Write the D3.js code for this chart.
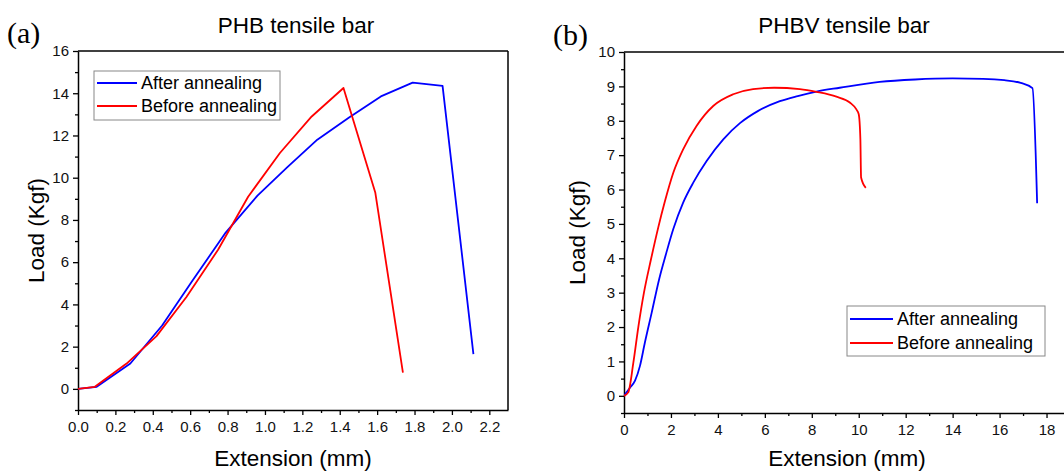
<!DOCTYPE html>
<html>
<head>
<meta charset="utf-8">
<script src="https://cdn.jsdelivr.net/npm/d3@7"></script>
<style>
  body { margin: 0; background: #fff; }
  svg { display: block; font-family: Arial, "Liberation Sans", sans-serif; }
</style>
</head>
<body>
<svg id="chart" width="1064" height="473"></svg>
<script>
// ---- Data ----
const seriesNames = ["After annealing", "Before annealing"];
const seriesColors = ["#0000ff", "#ff0000"];

// Panel (a): PHB tensile bar
const phbAfterX = [0, 0.1, 0.28, 0.45, 0.61, 0.79, 0.96, 1.12, 1.28, 1.45, 1.62, 1.79, 1.95, 2.115];
const phbAfterY = [0, 0.1, 1.2, 3.0, 5.1, 7.4, 9.15, 10.5, 11.8, 12.85, 13.85, 14.5, 14.35, 1.65];
const phbBeforeX = [0, 0.09, 0.26, 0.42, 0.58, 0.75, 0.91, 1.08, 1.25, 1.42, 1.59, 1.738];
const phbBeforeY = [0, 0.1, 1.2, 2.5, 4.35, 6.6, 9.1, 11.17, 12.9, 14.25, 9.3, 0.77];

// Panel (b): PHBV tensile bar
const phbvAfterX = [0, 0.26, 0.47, 0.68, 0.89, 1.18, 1.5, 1.8, 2.1, 2.52, 2.95, 3.52, 4.23, 4.94, 5.7, 6.64, 7.4, 8.2, 9.19, 10.89, 12.4, 14.0, 15.3, 16.2, 16.9, 17.4, 17.6];
const phbvAfterY = [0, 0.24, 0.44, 0.87, 1.55, 2.42, 3.4, 4.15, 4.85, 5.62, 6.2, 6.83, 7.46, 7.93, 8.28, 8.57, 8.72, 8.85, 8.96, 9.13, 9.2, 9.23, 9.22, 9.18, 9.1, 8.95, 5.6];
const phbvBeforeX = [0, 0.18, 0.4, 0.61, 0.85, 1.15, 1.46, 1.74, 2.1, 2.52, 3.09, 3.8, 4.65, 5.5, 6.4, 7.49, 8.2, 9.05, 9.62, 9.9, 10.0, 10.07, 10.1, 10.3];
const phbvBeforeY = [0, 0.1, 0.97, 2.0, 3.0, 3.97, 4.9, 5.65, 6.49, 7.17, 7.85, 8.43, 8.77, 8.92, 8.96, 8.92, 8.84, 8.7, 8.53, 8.33, 8.19, 7.46, 6.35, 6.05];

const phbXTicks = [0, 0.2, 0.4, 0.6, 0.8, 1.0, 1.2, 1.4, 1.6, 1.8, 2.0, 2.2];
const phbYTicks = [0, 2, 4, 6, 8, 10, 12, 14, 16];
const phbvXTicks = [0, 2, 4, 6, 8, 10, 12, 14, 16, 18];
const phbvYTicks = [0, 1, 2, 3, 4, 5, 6, 7, 8, 9, 10];

const svg = d3.select("#chart");

function zip(xs, ys) { return xs.map((x, i) => [x, ys[i]]); }

function panel(cfg) {
  const g = svg.append("g");
  const x = d3.scaleLinear().domain(cfg.xDomain).range([cfg.left, cfg.right]);
  const y = d3.scaleLinear().domain(cfg.yDomain).range([cfg.bottom, cfg.top]);

  const clipId = "clip-" + cfg.id;
  svg.append("clipPath").attr("id", clipId).append("rect")
    .attr("x", cfg.left).attr("y", cfg.top)
    .attr("width", cfg.right - cfg.left).attr("height", cfg.bottom - cfg.top);

  // minor ticks
  const xMinor = g.append("g").attr("transform", `translate(0,${cfg.bottom})`)
    .call(d3.axisBottom(x).tickValues(cfg.xMinor).tickSize(3).tickFormat(""));
  xMinor.select(".domain").remove();
  const yMinor = g.append("g").attr("transform", `translate(${cfg.left},0)`)
    .call(d3.axisLeft(y).tickValues(cfg.yMinor).tickSize(3).tickFormat(""));
  yMinor.select(".domain").remove();

  // major axes
  const xAx = g.append("g").attr("transform", `translate(0,${cfg.bottom})`)
    .call(d3.axisBottom(x).tickValues(cfg.xTicks).tickSize(5).tickPadding(6).tickSizeOuter(0).tickFormat(cfg.xFmt));
  const yAx = g.append("g").attr("transform", `translate(${cfg.left},0)`)
    .call(d3.axisLeft(y).tickValues(cfg.yTicks).tickSize(5).tickPadding(4).tickSizeOuter(0).tickFormat(d3.format("d")));
  [xAx, yAx, xMinor, yMinor].forEach(a => {
    a.attr("font-size", 15).attr("font-family", "Arial, 'Liberation Sans', sans-serif");
    a.selectAll("line").attr("stroke", "#000").attr("stroke-width", 1.3);
    a.selectAll("text").attr("fill", "#111");
    a.select(".domain").attr("stroke-width", 1.5);
  });

  // frame (top and right)
  g.append("line").attr("x1", cfg.left).attr("x2", cfg.right).attr("y1", cfg.top).attr("y2", cfg.top)
    .attr("stroke", "#000").attr("stroke-width", 1.5);
  g.append("line").attr("x1", cfg.right).attr("x2", cfg.right).attr("y1", cfg.top).attr("y2", cfg.bottom)
    .attr("stroke", "#000").attr("stroke-width", 1.5);

  // lines
  const line = d3.line().x(d => x(d[0])).y(d => y(d[1])).curve(cfg.curve);
  cfg.series.forEach((s, i) => {
    g.append("path").datum(s).attr("d", line).attr("fill", "none")
      .attr("stroke", seriesColors[i]).attr("stroke-width", 1.8)
      .attr("stroke-linejoin", "round").attr("clip-path", `url(#${clipId})`);
  });

  // titles
  const cx = (cfg.left + cfg.right) / 2;
  g.append("text").attr("x", cfg.titleX).attr("y", 33).attr("text-anchor", "middle")
    .attr("font-size", 22.5).text(cfg.title);
  g.append("text").attr("x", cx).attr("y", 466).attr("text-anchor", "middle")
    .attr("font-size", 22.5).text("Extension (mm)");
  g.append("text").attr("transform", `translate(${cfg.yTitleX},${(cfg.top + cfg.bottom) / 2}) rotate(-90)`)
    .attr("text-anchor", "middle").attr("font-size", 22.5).text("Load (Kgf)");
  g.append("text").attr("x", cfg.tagX).attr("y", cfg.tagY)
    .attr("font-family", "'Liberation Serif', 'Times New Roman', serif").attr("font-size", 30)
    .text(cfg.tag);

  // legend
  const L = cfg.legend;
  g.append("rect").attr("x", L.x).attr("y", L.y).attr("width", L.w).attr("height", L.h)
    .attr("fill", "#fff").attr("stroke", "#888").attr("stroke-width", 1);
  seriesNames.forEach((n, i) => {
    const yy = L.y + L.rowY[i];
    g.append("line").attr("x1", L.x + 3).attr("x2", L.x + L.lineW).attr("y1", yy).attr("y2", yy)
      .attr("stroke", seriesColors[i]).attr("stroke-width", 1.8);
    g.append("text").attr("x", L.x + L.lineW + 4).attr("y", yy).attr("dy", "0.35em")
      .attr("font-size", 18).text(n);
  });
}

panel({
  id: "a", left: 78, right: 508, top: 51, bottom: 410,
  xDomain: [0, 2.3], yDomain: [-1, 16],
  xTicks: phbXTicks, yTicks: phbYTicks,
  xMinor: d3.range(0.1, 2.3, 0.2), yMinor: d3.range(-1, 16, 2),
  xFmt: d3.format(".1f"),
  curve: d3.curveLinear,
  series: [zip(phbAfterX, phbAfterY), zip(phbBeforeX, phbBeforeY)],
  title: "PHB tensile bar", titleX: 296, yTitleX: 44,
  tag: "(a)", tagX: 7, tagY: 43,
  legend: { x: 94, y: 71, w: 186, h: 49, lineW: 43, rowY: [12, 35] }
});

panel({
  id: "b", left: 624, right: 1070, top: 52, bottom: 413,
  xDomain: [0, 19], yDomain: [-0.5, 10],
  xTicks: phbvXTicks, yTicks: phbvYTicks,
  xMinor: d3.range(1, 19, 2), yMinor: d3.range(-0.5, 10, 1),
  xFmt: d3.format("d"),
  curve: d3.curveMonotoneX,
  series: [zip(phbvAfterX, phbvAfterY), zip(phbvBeforeX, phbvBeforeY)],
  title: "PHBV tensile bar", titleX: 844, yTitleX: 585,
  tag: "(b)", tagX: 553, tagY: 45,
  legend: { x: 847, y: 306, w: 198, h: 50, lineW: 46, rowY: [13, 37] }
});
</script>
</body>
</html>
